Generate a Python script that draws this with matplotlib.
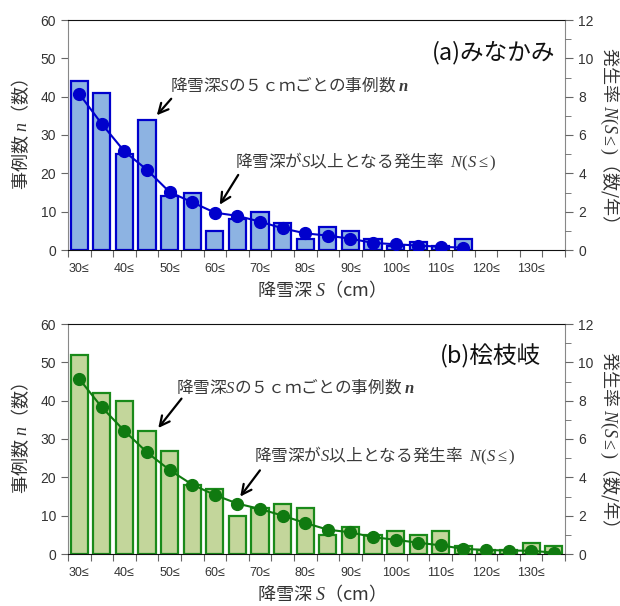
import numpy as np
import matplotlib
matplotlib.use('Agg')
import matplotlib.pyplot as plt
from matplotlib.ticker import MultipleLocator, FixedLocator, NullFormatter

plt.rcParams['font.family'] = ['Liberation Sans', 'DejaVu Sans']
plt.rcParams['mathtext.fontset'] = 'custom'
plt.rcParams['mathtext.it'] = 'Liberation Serif:italic'
plt.rcParams['mathtext.rm'] = 'Liberation Serif'
plt.rcParams['mathtext.bfit'] = 'Liberation Serif:italic:bold'

JP = 'Noto Sans CJK JP'

# snow depth classes (5 cm bins, "S cm or more")
depth = [30, 35, 40, 45, 50, 55, 60, 65, 70, 75, 80, 85, 90, 95, 100, 105, 110, 115, 120, 125, 130, 135]
tick_labels = ['30≤', '40≤', '50≤', '60≤', '70≤', '80≤', '90≤', '100≤', '110≤', '120≤', '130≤']

# (a) minakami
a_counts = [44, 41, 25, 34, 14, 15, 5, 8, 10, 7, 3, 6, 5, 3, 1, 2, 1, 3]
a_rate = [8.14, 6.57, 5.14, 4.18, 3.02, 2.49, 1.95, 1.78, 1.48, 1.13, 0.87, 0.75,
          0.59, 0.37, 0.30, 0.23, 0.17, 0.12]

# (b) hinoemata
b_counts = [52, 42, 40, 32, 27, 18, 17, 10, 12, 13, 12, 5, 7, 5, 6, 5, 6, 2, 1, 1, 3, 2]
b_rate = [9.13, 7.65, 6.42, 5.30, 4.38, 3.62, 3.08, 2.63, 2.35, 2.00, 1.62, 1.27,
          1.13, 0.88, 0.74, 0.59, 0.45, 0.27, 0.21, 0.18, 0.17, 0.07]


def draw_panel(ax, counts, rate, face, edge, dot, title, title_x, ann1, ann2):
    n = len(depth)
    xc = np.arange(len(counts))
    ax.bar(xc, counts, width=0.76, color=face, edgecolor=edge, linewidth=1.6, zorder=2)
    ax.set_xlim(-0.5, n - 0.5)
    ax.set_ylim(0, 60)
    ax.yaxis.set_major_locator(MultipleLocator(10))
    ax.xaxis.set_major_locator(FixedLocator(np.arange(n + 1) - 0.5))
    ax.xaxis.set_major_formatter(NullFormatter())
    ax.xaxis.set_minor_locator(FixedLocator(np.arange(0, n, 2)))
    ax.set_xticklabels(tick_labels, minor=True)
    ax.tick_params(axis='x', which='minor', length=0, pad=9, labelsize=9, labelcolor='#333333')
    ax.tick_params(axis='x', which='major', length=5, color='#666666', direction='out')
    ax.tick_params(axis='y', length=5, color='#666666', labelsize=10, labelcolor='#333333')
    for s in ['left', 'right']:
        ax.spines[s].set_color('#888888')
    ax.spines['top'].set_color('#111111')
    ax.spines['bottom'].set_color('#111111')
    ax.set_xlabel('降雪深 $S$（cm）', family=JP, fontsize=13, color='#333333', labelpad=3)
    ax.set_ylabel('事例数 $n$（数）', family=JP, fontsize=13, color='#333333', labelpad=7)

    ax2 = ax.twinx()
    ax2.plot(np.arange(len(rate)), rate, '-o', color=dot, lw=1.5, ms=8.5, zorder=3)
    ax2.set_ylim(0, 12)
    ax2.yaxis.set_major_locator(MultipleLocator(2))
    ax2.yaxis.set_minor_locator(MultipleLocator(1))
    ax2.tick_params(axis='y', which='major', length=6, color='#666666', labelsize=10, labelcolor='#333333')
    ax2.tick_params(axis='y', which='minor', length=4, color='#666666')
    for s in ax2.spines.values():
        s.set_visible(False)
    ax2.set_ylabel('発生率 $N(S\\leq)$（数/年）', family=JP, fontsize=13, color='#333333',
                   rotation=270, labelpad=20)

    ax.text(title_x, 0.86, title, transform=ax.transAxes, ha='right', va='center',
            family=JP, fontsize=17, color='#111111')

    for (tx, ty, txt, tail, head) in (ann1, ann2):
        ax2.text(tx, ty / 5, txt, ha='left', va='center', family=JP, fontsize=12,
                 color='#3a3a3a', zorder=5)
        ax2.annotate('', xy=(head[0], head[1] / 5), xytext=(tail[0], tail[1] / 5),
                     arrowprops=dict(arrowstyle='->,head_length=0.7,head_width=0.35',
                                     color='black', lw=1.6), zorder=5)
    return ax2


fig = plt.figure(figsize=(6.2, 6.06), dpi=100)
ax_a = fig.add_axes([68 / 620, 1 - 250 / 606, 497 / 620, 230 / 606])
ax_b = fig.add_axes([68 / 620, 1 - 554 / 606, 497 / 620, 230 / 606])

txt1 = '降雪深$S$の５ｃｍごとの事例数 $\\mathbfit{n}$'
txt2 = '降雪深が$S$以上となる発生率  $N(S\\leq)$'

draw_panel(ax_a, a_counts, a_rate, '#8DB3E2', '#0000CC', '#0000CC', '(a)みなかみ', 0.98,
           (4.0, 43.2, txt1, (4.15, 40.0), (3.35, 34.6)),
           (6.9, 23.0, txt2, (7.1, 20.2), (6.15, 11.2)))
draw_panel(ax_b, b_counts, b_rate, '#C3D69B', '#1A8A1A', '#107A10', '(b)桧枝岐', 0.951,
           (4.3, 43.7, txt1, (4.6, 41.1), (3.42, 32.3)),
           (7.75, 25.7, txt2, (8.07, 22.4), (7.05, 14.4)))

fig.savefig('out.png', dpi=100)
